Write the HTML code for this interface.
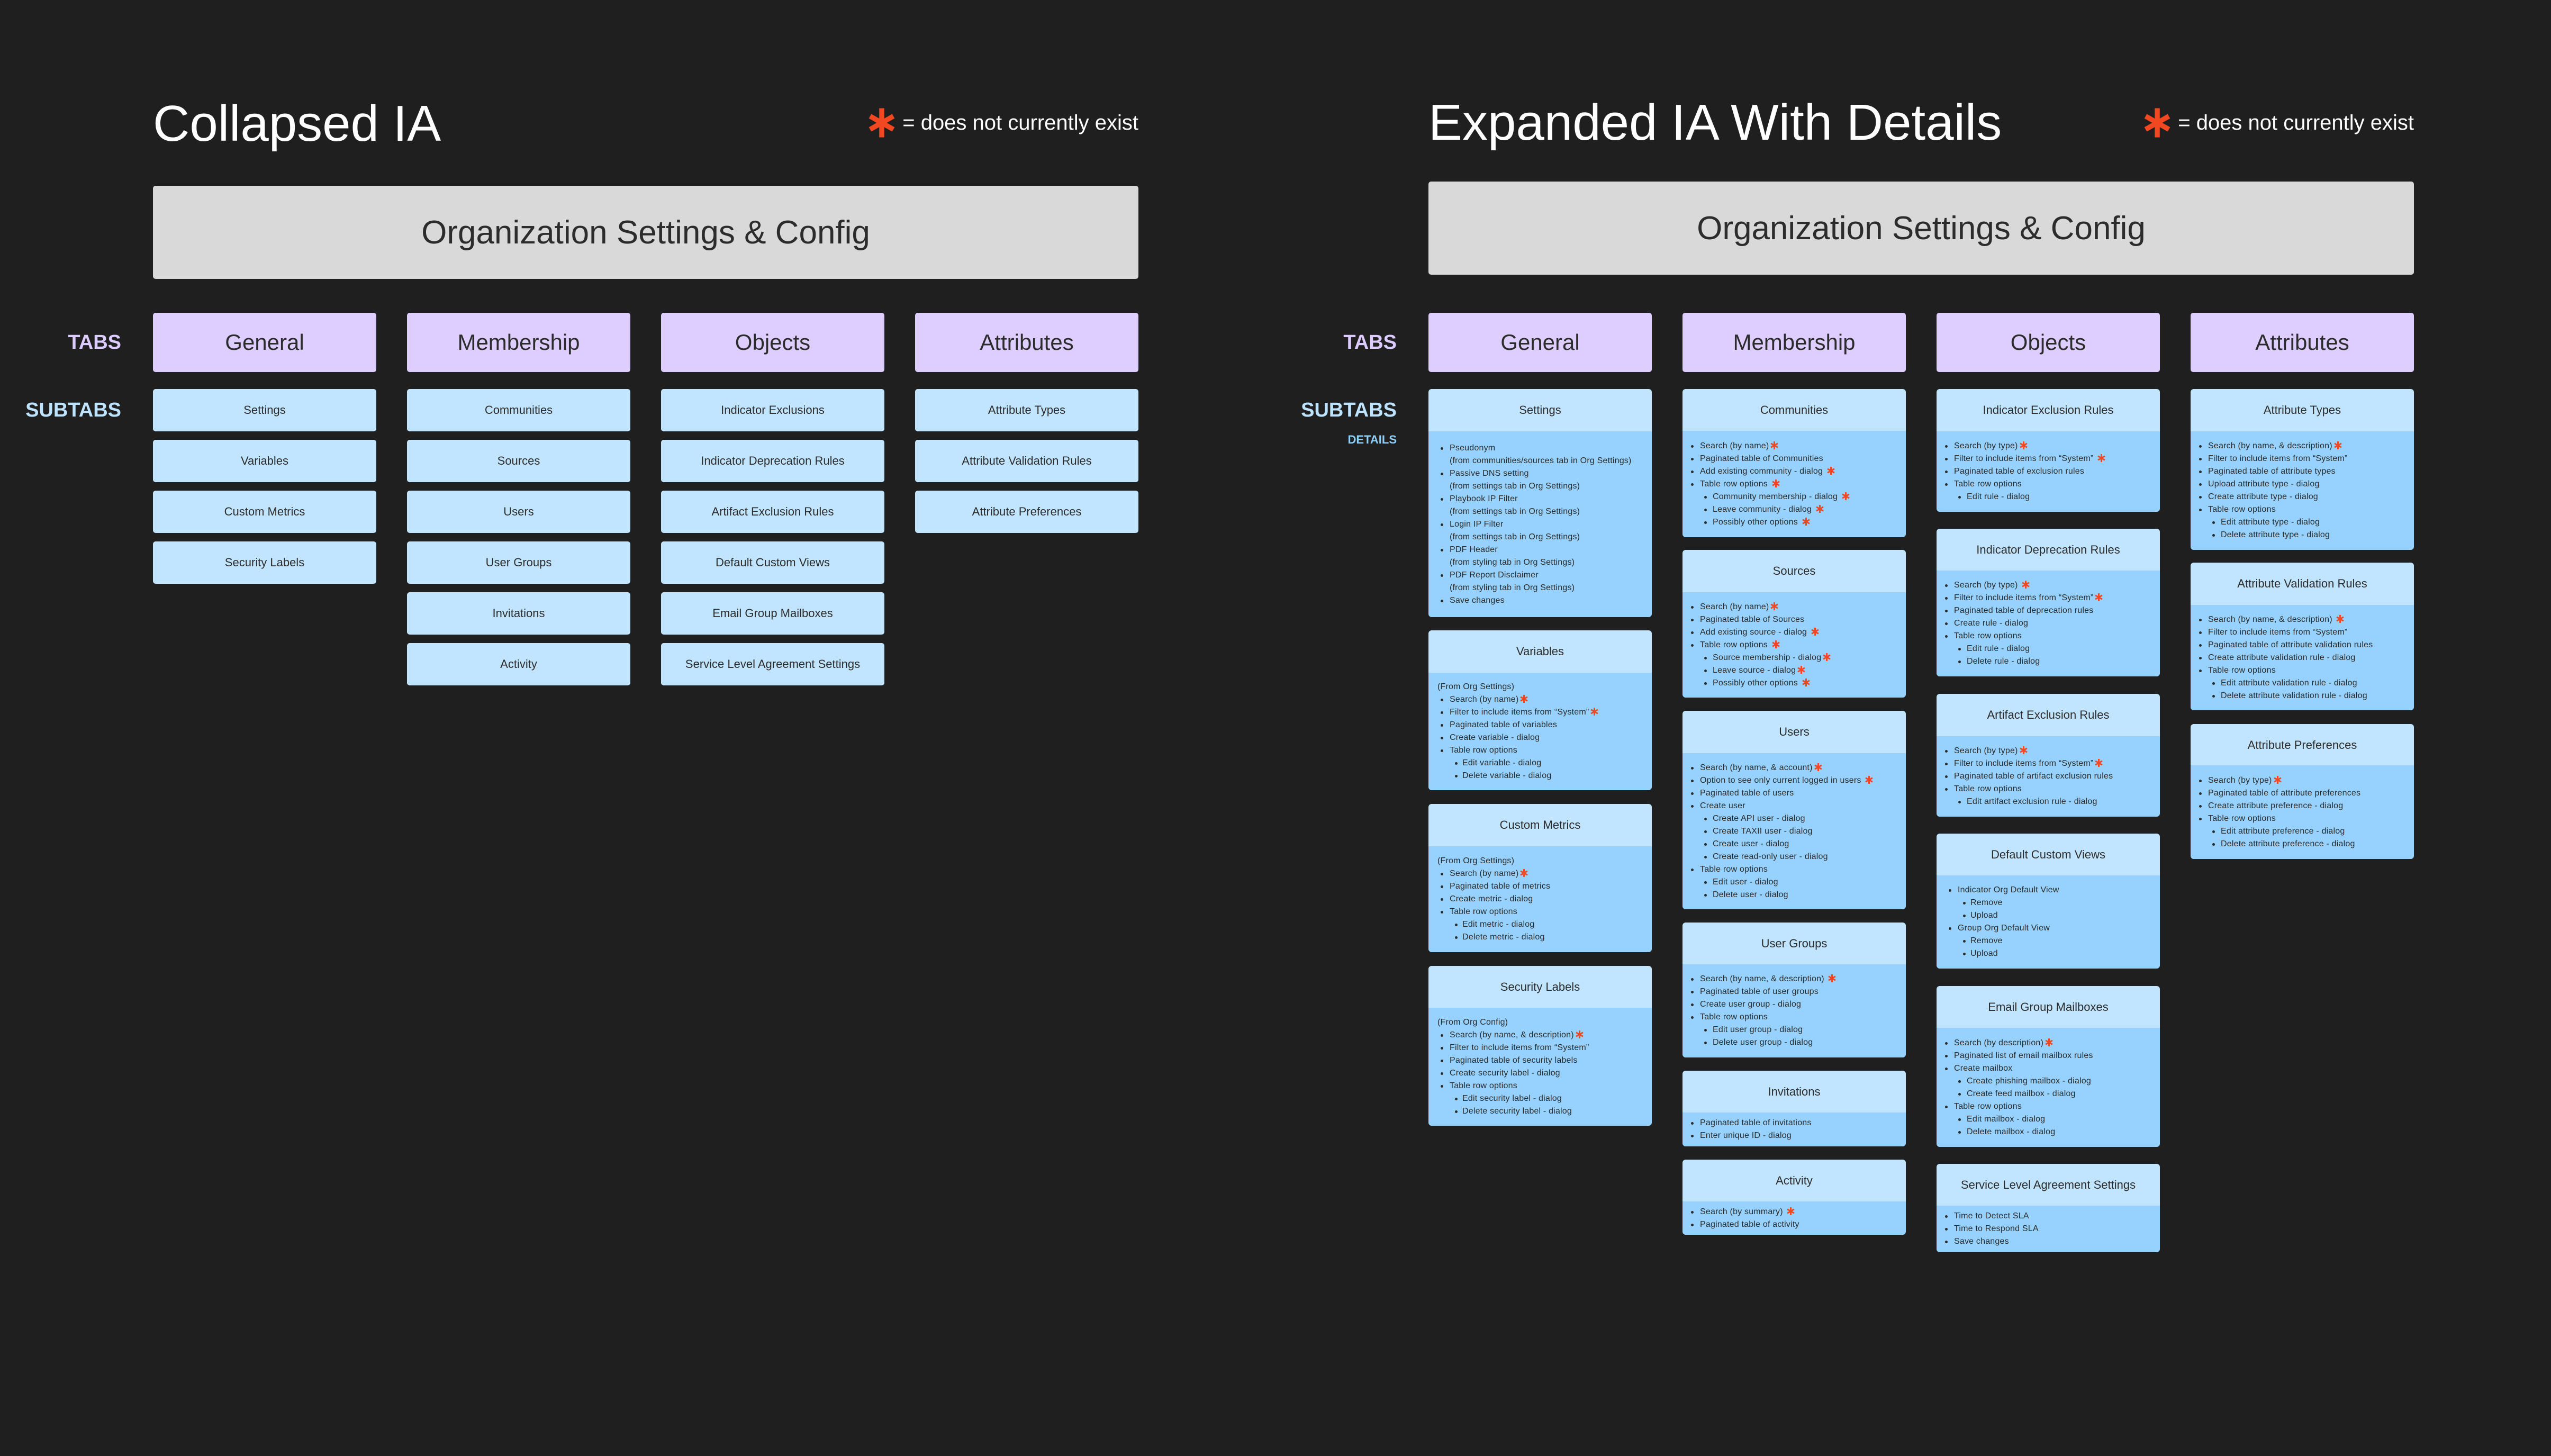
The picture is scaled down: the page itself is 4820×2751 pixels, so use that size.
<!DOCTYPE html>
<html><head><meta charset="utf-8">
<style>
*{margin:0;padding:0;box-sizing:border-box}
html,body{width:4820px;height:2751px;background:#1f1f1f;overflow:hidden}
body{position:relative;font-family:"Liberation Sans",sans-serif;color:#2b2b2b}
.abs{position:absolute}
.title{position:absolute;color:#fff;font-size:96px;line-height:96px;font-weight:500;white-space:nowrap}
.legend{position:absolute;color:#fff;font-size:40px;line-height:60px;white-space:nowrap;display:flex;align-items:center}
.legend svg{margin-right:14px}
.org{position:absolute;background:#d9d9d9;border-radius:5px;display:flex;align-items:center;justify-content:center;font-size:62px;color:#2c2c2c}
.tab{position:absolute;background:#decdff;border-radius:5px;display:flex;align-items:center;justify-content:center;font-size:42px;color:#2c2c2c;width:422px;height:112px;top:591px}
.sub{position:absolute;background:#c2e5ff;border-radius:5px;display:flex;align-items:center;justify-content:center;font-size:22px;color:#2c2c2c;width:422px;height:80px;white-space:nowrap}
.lbl{position:absolute;font-weight:bold;text-align:right;white-space:nowrap}
.hd{position:absolute;background:#c2e5ff;border-radius:6px 6px 0 0;display:flex;align-items:center;justify-content:center;font-size:22px;color:#2c2c2c;width:422px;height:80px;white-space:nowrap}
.dt{position:absolute;background:#96d2fd;border-radius:0 0 6px 6px;width:422px;display:flex;flex-direction:column;justify-content:center;font-size:16px;line-height:24px;letter-spacing:0.2px;white-space:nowrap;color:#2b2b2b}
.dt div{position:relative;height:24px}
.g .p{padding-left:17px}
.g .a{padding-left:40px}.g .a::before{content:"";position:absolute;left:23px;top:10px;width:5px;height:5px;border-radius:50%;background:#2b2b2b}
.g .b{padding-left:64px}.g .b::before{content:"";position:absolute;left:50px;top:10px;width:5px;height:5px;border-radius:50%;background:#2b2b2b}
.m .a{padding-left:33px}.m .a::before{content:"";position:absolute;left:16px;top:10px;width:5px;height:5px;border-radius:50%;background:#2b2b2b}
.m .b{padding-left:57px}.m .b::before{content:"";position:absolute;left:41px;top:10px;width:5px;height:5px;border-radius:50%;background:#2b2b2b}
.s{display:inline-block;vertical-align:-2px;margin-left:3px}
</style></head><body>

<!-- COLLAPSED -->
<div class="title" style="left:289px;top:186px">Collapsed IA</div>
<div class="legend" style="right:2669px;top:202px"><svg width="50" height="56" viewBox="0 0 10 11"><path d="M5 0V11M0.6 3L9.4 8M0.6 8L9.4 3" stroke="#f24822" stroke-width="1.9"/></svg>= does not currently exist</div>
<div class="org" style="left:289px;top:351px;width:1862px;height:176px">Organization Settings &amp; Config</div>
<div class="lbl" style="right:4591px;top:623px;font-size:38px;line-height:48px;color:#dccbff">TABS</div>
<div class="lbl" style="right:4591px;top:751px;font-size:38px;line-height:48px;color:#bde3ff">SUBTABS</div>
<div class="tab" style="left:289px">General</div>
<div class="tab" style="left:769px">Membership</div>
<div class="tab" style="left:1249px">Objects</div>
<div class="tab" style="left:1729px">Attributes</div>

<div class="sub" style="left:289px;top:735px">Settings</div>
<div class="sub" style="left:289px;top:831px">Variables</div>
<div class="sub" style="left:289px;top:927px">Custom Metrics</div>
<div class="sub" style="left:289px;top:1023px">Security Labels</div>

<div class="sub" style="left:769px;top:735px">Communities</div>
<div class="sub" style="left:769px;top:831px">Sources</div>
<div class="sub" style="left:769px;top:927px">Users</div>
<div class="sub" style="left:769px;top:1023px">User Groups</div>
<div class="sub" style="left:769px;top:1119px">Invitations</div>
<div class="sub" style="left:769px;top:1215px">Activity</div>

<div class="sub" style="left:1249px;top:735px">Indicator Exclusions</div>
<div class="sub" style="left:1249px;top:831px">Indicator Deprecation Rules</div>
<div class="sub" style="left:1249px;top:927px">Artifact Exclusion Rules</div>
<div class="sub" style="left:1249px;top:1023px">Default Custom Views</div>
<div class="sub" style="left:1249px;top:1119px">Email Group Mailboxes</div>
<div class="sub" style="left:1249px;top:1215px">Service Level Agreement Settings</div>

<div class="sub" style="left:1729px;top:735px">Attribute Types</div>
<div class="sub" style="left:1729px;top:831px">Attribute Validation Rules</div>
<div class="sub" style="left:1729px;top:927px">Attribute Preferences</div>

<!-- EXPANDED -->
<div class="title" style="left:2699px;top:184px">Expanded IA With Details</div>
<div class="legend" style="right:259px;top:202px"><svg width="50" height="56" viewBox="0 0 10 11"><path d="M5 0V11M0.6 3L9.4 8M0.6 8L9.4 3" stroke="#f24822" stroke-width="1.9"/></svg>= does not currently exist</div>
<div class="org" style="left:2699px;top:343px;width:1862px;height:176px">Organization Settings &amp; Config</div>
<div class="lbl" style="right:2181px;top:623px;font-size:38px;line-height:48px;color:#dccbff">TABS</div>
<div class="lbl" style="right:2181px;top:751px;font-size:38px;line-height:48px;color:#bde3ff">SUBTABS</div>
<div class="lbl" style="right:2181px;top:817px;font-size:22px;line-height:28px;color:#8fd0fb">DETAILS</div>
<div class="tab" style="left:2699px">General</div>
<div class="tab" style="left:3179px">Membership</div>
<div class="tab" style="left:3659px">Objects</div>
<div class="tab" style="left:4139px">Attributes</div>

<!-- General -->
<div class="hd" style="left:2699px;top:735px">Settings</div>
<div class="dt g" style="left:2699px;top:815px;height:351px">
<div class="a">Pseudonym</div><div class="a" style="">(from communities/sources tab in Org Settings)</div>
<div class="a">Passive DNS setting</div><div class="a">(from settings tab in Org Settings)</div>
<div class="a">Playbook IP Filter</div><div class="a">(from settings tab in Org Settings)</div>
<div class="a">Login IP Filter</div><div class="a">(from settings tab in Org Settings)</div>
<div class="a">PDF Header</div><div class="a">(from styling tab in Org Settings)</div>
<div class="a">PDF Report Disclaimer</div><div class="a">(from styling tab in Org Settings)</div>
<div class="a">Save changes</div>
</div>
<style>.dt.g div:nth-child(2)::before,.dt.g div:nth-child(4)::before,.dt.g div:nth-child(6)::before,.dt.g div:nth-child(8)::before,.dt.g div:nth-child(10)::before,.dt.g div:nth-child(12)::before{display:none}</style>

<div class="hd" style="left:2699px;top:1191px">Variables</div>
<div class="dt g2" style="left:2699px;top:1271px;height:222px">
<div class="p">(From Org Settings)</div>
<div class="a">Search (by name)<svg class="s" width="15" height="15" viewBox="0 0 10 10"><path d="M5 0V10M0.7 2.5L9.3 7.5M0.7 7.5L9.3 2.5" stroke="#f24822" stroke-width="2"/></svg></div>
<div class="a">Filter to include items from “System”<svg class="s" width="15" height="15" viewBox="0 0 10 10"><path d="M5 0V10M0.7 2.5L9.3 7.5M0.7 7.5L9.3 2.5" stroke="#f24822" stroke-width="2"/></svg></div>
<div class="a">Paginated table of variables</div>
<div class="a">Create variable - dialog</div>
<div class="a">Table row options</div>
<div class="b">Edit variable - dialog</div>
<div class="b">Delete variable - dialog</div>
</div>

<div class="hd" style="left:2699px;top:1519px">Custom Metrics</div>
<div class="dt g2" style="left:2699px;top:1599px;height:200px">
<div class="p">(From Org Settings)</div>
<div class="a">Search (by name)<svg class="s" width="15" height="15" viewBox="0 0 10 10"><path d="M5 0V10M0.7 2.5L9.3 7.5M0.7 7.5L9.3 2.5" stroke="#f24822" stroke-width="2"/></svg></div>
<div class="a">Paginated table of metrics</div>
<div class="a">Create metric - dialog</div>
<div class="a">Table row options</div>
<div class="b">Edit metric - dialog</div>
<div class="b">Delete metric - dialog</div>
</div>

<div class="hd" style="left:2699px;top:1825px">Security Labels</div>
<div class="dt g2" style="left:2699px;top:1904px;height:223px">
<div class="p">(From Org Config)</div>
<div class="a">Search (by name, &amp; description)<svg class="s" width="15" height="15" viewBox="0 0 10 10"><path d="M5 0V10M0.7 2.5L9.3 7.5M0.7 7.5L9.3 2.5" stroke="#f24822" stroke-width="2"/></svg></div>
<div class="a">Filter to include items from “System”</div>
<div class="a">Paginated table of security labels</div>
<div class="a">Create security label - dialog</div>
<div class="a">Table row options</div>
<div class="b">Edit security label - dialog</div>
<div class="b">Delete security label - dialog</div>
</div>
<style>
.g2 .p{padding-left:17px}
.g2 .a{padding-left:40px}.g2 .a::before{content:"";position:absolute;left:23px;top:10px;width:5px;height:5px;border-radius:50%;background:#2b2b2b}
.g2 .b{padding-left:64px}.g2 .b::before{content:"";position:absolute;left:50px;top:10px;width:5px;height:5px;border-radius:50%;background:#2b2b2b}
</style>

<!-- Membership -->
<div class="hd" style="left:3179px;top:735px">Communities</div>
<div class="dt m" style="left:3179px;top:814px;height:201px">
<div class="a">Search (by name)<svg class="s" width="15" height="15" viewBox="0 0 10 10"><path d="M5 0V10M0.7 2.5L9.3 7.5M0.7 7.5L9.3 2.5" stroke="#f24822" stroke-width="2"/></svg></div>
<div class="a">Paginated table of Communities</div>
<div class="a">Add existing community - dialog <svg class="s" width="15" height="15" viewBox="0 0 10 10"><path d="M5 0V10M0.7 2.5L9.3 7.5M0.7 7.5L9.3 2.5" stroke="#f24822" stroke-width="2"/></svg></div>
<div class="a">Table row options <svg class="s" width="15" height="15" viewBox="0 0 10 10"><path d="M5 0V10M0.7 2.5L9.3 7.5M0.7 7.5L9.3 2.5" stroke="#f24822" stroke-width="2"/></svg></div>
<div class="b">Community membership - dialog <svg class="s" width="15" height="15" viewBox="0 0 10 10"><path d="M5 0V10M0.7 2.5L9.3 7.5M0.7 7.5L9.3 2.5" stroke="#f24822" stroke-width="2"/></svg></div>
<div class="b">Leave community - dialog <svg class="s" width="15" height="15" viewBox="0 0 10 10"><path d="M5 0V10M0.7 2.5L9.3 7.5M0.7 7.5L9.3 2.5" stroke="#f24822" stroke-width="2"/></svg></div>
<div class="b">Possibly other options <svg class="s" width="15" height="15" viewBox="0 0 10 10"><path d="M5 0V10M0.7 2.5L9.3 7.5M0.7 7.5L9.3 2.5" stroke="#f24822" stroke-width="2"/></svg></div>
</div>

<div class="hd" style="left:3179px;top:1039px">Sources</div>
<div class="dt m" style="left:3179px;top:1119px;height:199px">
<div class="a">Search (by name)<svg class="s" width="15" height="15" viewBox="0 0 10 10"><path d="M5 0V10M0.7 2.5L9.3 7.5M0.7 7.5L9.3 2.5" stroke="#f24822" stroke-width="2"/></svg></div>
<div class="a">Paginated table of Sources</div>
<div class="a">Add existing source - dialog <svg class="s" width="15" height="15" viewBox="0 0 10 10"><path d="M5 0V10M0.7 2.5L9.3 7.5M0.7 7.5L9.3 2.5" stroke="#f24822" stroke-width="2"/></svg></div>
<div class="a">Table row options <svg class="s" width="15" height="15" viewBox="0 0 10 10"><path d="M5 0V10M0.7 2.5L9.3 7.5M0.7 7.5L9.3 2.5" stroke="#f24822" stroke-width="2"/></svg></div>
<div class="b">Source membership - dialog<svg class="s" width="15" height="15" viewBox="0 0 10 10"><path d="M5 0V10M0.7 2.5L9.3 7.5M0.7 7.5L9.3 2.5" stroke="#f24822" stroke-width="2"/></svg></div>
<div class="b">Leave source - dialog<svg class="s" width="15" height="15" viewBox="0 0 10 10"><path d="M5 0V10M0.7 2.5L9.3 7.5M0.7 7.5L9.3 2.5" stroke="#f24822" stroke-width="2"/></svg></div>
<div class="b">Possibly other options <svg class="s" width="15" height="15" viewBox="0 0 10 10"><path d="M5 0V10M0.7 2.5L9.3 7.5M0.7 7.5L9.3 2.5" stroke="#f24822" stroke-width="2"/></svg></div>
</div>

<div class="hd" style="left:3179px;top:1343px">Users</div>
<div class="dt m" style="left:3179px;top:1423px;height:295px">
<div class="a">Search (by name, &amp; account)<svg class="s" width="15" height="15" viewBox="0 0 10 10"><path d="M5 0V10M0.7 2.5L9.3 7.5M0.7 7.5L9.3 2.5" stroke="#f24822" stroke-width="2"/></svg></div>
<div class="a">Option to see only current logged in users <svg class="s" width="15" height="15" viewBox="0 0 10 10"><path d="M5 0V10M0.7 2.5L9.3 7.5M0.7 7.5L9.3 2.5" stroke="#f24822" stroke-width="2"/></svg></div>
<div class="a">Paginated table of users</div>
<div class="a">Create user</div>
<div class="b">Create API user - dialog</div>
<div class="b">Create TAXII user - dialog</div>
<div class="b">Create user - dialog</div>
<div class="b">Create read-only user - dialog</div>
<div class="a">Table row options</div>
<div class="b">Edit user - dialog</div>
<div class="b">Delete user - dialog</div>
</div>

<div class="hd" style="left:3179px;top:1743px">User Groups</div>
<div class="dt m" style="left:3179px;top:1822px;height:176px">
<div class="a">Search (by name, &amp; description) <svg class="s" width="15" height="15" viewBox="0 0 10 10"><path d="M5 0V10M0.7 2.5L9.3 7.5M0.7 7.5L9.3 2.5" stroke="#f24822" stroke-width="2"/></svg></div>
<div class="a">Paginated table of user groups</div>
<div class="a">Create user group - dialog</div>
<div class="a">Table row options</div>
<div class="b">Edit user group - dialog</div>
<div class="b">Delete user group - dialog</div>
</div>

<div class="hd" style="left:3179px;top:2023px">Invitations</div>
<div class="dt m" style="left:3179px;top:2102px;height:64px">
<div class="a">Paginated table of invitations</div>
<div class="a">Enter unique ID - dialog</div>
</div>

<div class="hd" style="left:3179px;top:2191px">Activity</div>
<div class="dt m" style="left:3179px;top:2270px;height:63px">
<div class="a">Search (by summary) <svg class="s" width="15" height="15" viewBox="0 0 10 10"><path d="M5 0V10M0.7 2.5L9.3 7.5M0.7 7.5L9.3 2.5" stroke="#f24822" stroke-width="2"/></svg></div>
<div class="a">Paginated table of activity</div>
</div>

<!-- Objects -->
<div class="hd" style="left:3659px;top:735px">Indicator Exclusion Rules</div>
<div class="dt m" style="left:3659px;top:815px;height:152px">
<div class="a">Search (by type)<svg class="s" width="15" height="15" viewBox="0 0 10 10"><path d="M5 0V10M0.7 2.5L9.3 7.5M0.7 7.5L9.3 2.5" stroke="#f24822" stroke-width="2"/></svg></div>
<div class="a">Filter to include items from “System” <svg class="s" width="15" height="15" viewBox="0 0 10 10"><path d="M5 0V10M0.7 2.5L9.3 7.5M0.7 7.5L9.3 2.5" stroke="#f24822" stroke-width="2"/></svg></div>
<div class="a">Paginated table of exclusion rules</div>
<div class="a">Table row options</div>
<div class="b">Edit rule - dialog</div>
</div>

<div class="hd" style="left:3659px;top:999px">Indicator Deprecation Rules</div>
<div class="dt m" style="left:3659px;top:1078px;height:200px">
<div class="a">Search (by type) <svg class="s" width="15" height="15" viewBox="0 0 10 10"><path d="M5 0V10M0.7 2.5L9.3 7.5M0.7 7.5L9.3 2.5" stroke="#f24822" stroke-width="2"/></svg></div>
<div class="a">Filter to include items from “System”<svg class="s" width="15" height="15" viewBox="0 0 10 10"><path d="M5 0V10M0.7 2.5L9.3 7.5M0.7 7.5L9.3 2.5" stroke="#f24822" stroke-width="2"/></svg></div>
<div class="a">Paginated table of deprecation rules</div>
<div class="a">Create rule - dialog</div>
<div class="a">Table row options</div>
<div class="b">Edit rule - dialog</div>
<div class="b">Delete rule - dialog</div>
</div>

<div class="hd" style="left:3659px;top:1311px">Artifact Exclusion Rules</div>
<div class="dt m" style="left:3659px;top:1391px;height:152px">
<div class="a">Search (by type)<svg class="s" width="15" height="15" viewBox="0 0 10 10"><path d="M5 0V10M0.7 2.5L9.3 7.5M0.7 7.5L9.3 2.5" stroke="#f24822" stroke-width="2"/></svg></div>
<div class="a">Filter to include items from “System”<svg class="s" width="15" height="15" viewBox="0 0 10 10"><path d="M5 0V10M0.7 2.5L9.3 7.5M0.7 7.5L9.3 2.5" stroke="#f24822" stroke-width="2"/></svg></div>
<div class="a">Paginated table of artifact exclusion rules</div>
<div class="a">Table row options</div>
<div class="b">Edit artifact exclusion rule - dialog</div>
</div>

<div class="hd" style="left:3659px;top:1575px">Default Custom Views</div>
<div class="dt g2" style="left:3659px;top:1654px;height:176px">
<div class="a">Indicator Org Default View</div>
<div class="b">Remove</div>
<div class="b">Upload</div>
<div class="a">Group Org Default View</div>
<div class="b">Remove</div>
<div class="b">Upload</div>
</div>

<div class="hd" style="left:3659px;top:1863px">Email Group Mailboxes</div>
<div class="dt m" style="left:3659px;top:1942px;height:225px">
<div class="a">Search (by description)<svg class="s" width="15" height="15" viewBox="0 0 10 10"><path d="M5 0V10M0.7 2.5L9.3 7.5M0.7 7.5L9.3 2.5" stroke="#f24822" stroke-width="2"/></svg></div>
<div class="a">Paginated list of email mailbox rules</div>
<div class="a">Create mailbox</div>
<div class="b">Create phishing mailbox - dialog</div>
<div class="b">Create feed mailbox - dialog</div>
<div class="a">Table row options</div>
<div class="b">Edit mailbox - dialog</div>
<div class="b">Delete mailbox - dialog</div>
</div>

<div class="hd" style="left:3659px;top:2199px">Service Level Agreement Settings</div>
<div class="dt m" style="left:3659px;top:2278px;height:88px">
<div class="a">Time to Detect SLA</div>
<div class="a">Time to Respond SLA</div>
<div class="a">Save changes</div>
</div>

<!-- Attributes -->
<div class="hd" style="left:4139px;top:735px">Attribute Types</div>
<div class="dt m" style="left:4139px;top:815px;height:224px">
<div class="a">Search (by name, &amp; description)<svg class="s" width="15" height="15" viewBox="0 0 10 10"><path d="M5 0V10M0.7 2.5L9.3 7.5M0.7 7.5L9.3 2.5" stroke="#f24822" stroke-width="2"/></svg></div>
<div class="a">Filter to include items from “System”</div>
<div class="a">Paginated table of attribute types</div>
<div class="a">Upload attribute type - dialog</div>
<div class="a">Create attribute type - dialog</div>
<div class="a">Table row options</div>
<div class="b">Edit attribute type - dialog</div>
<div class="b">Delete attribute type - dialog</div>
</div>

<div class="hd" style="left:4139px;top:1063px">Attribute Validation Rules</div>
<div class="dt m" style="left:4139px;top:1143px;height:199px">
<div class="a">Search (by name, &amp; description) <svg class="s" width="15" height="15" viewBox="0 0 10 10"><path d="M5 0V10M0.7 2.5L9.3 7.5M0.7 7.5L9.3 2.5" stroke="#f24822" stroke-width="2"/></svg></div>
<div class="a">Filter to include items from “System”</div>
<div class="a">Paginated table of attribute validation rules</div>
<div class="a">Create attribute validation rule - dialog</div>
<div class="a">Table row options</div>
<div class="b">Edit attribute validation rule - dialog</div>
<div class="b">Delete attribute validation rule - dialog</div>
</div>

<div class="hd" style="left:4139px;top:1368px">Attribute Preferences</div>
<div class="dt m" style="left:4139px;top:1446px;height:177px">
<div class="a">Search (by type)<svg class="s" width="15" height="15" viewBox="0 0 10 10"><path d="M5 0V10M0.7 2.5L9.3 7.5M0.7 7.5L9.3 2.5" stroke="#f24822" stroke-width="2"/></svg></div>
<div class="a">Paginated table of attribute preferences</div>
<div class="a">Create attribute preference - dialog</div>
<div class="a">Table row options</div>
<div class="b">Edit attribute preference - dialog</div>
<div class="b">Delete attribute preference - dialog</div>
</div>

</body></html>
